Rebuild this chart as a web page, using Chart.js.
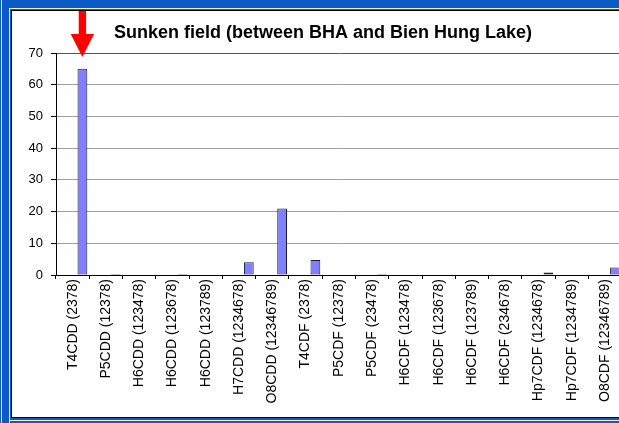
<!DOCTYPE html>
<html>
<head>
<meta charset="utf-8">
<script src="https://cdn.jsdelivr.net/npm/chart.js@4.4.1/dist/chart.umd.min.js"></script>
<style>
  html, body { margin: 0; padding: 0; }
  body {
    width: 619px; height: 423px; overflow: hidden; position: relative;
    background: #0a5bc6;
    font-family: "Liberation Sans", Arial, sans-serif;
  }
  .stripe { position: absolute; background: #f2eeb8; }
  #panel {
    position: absolute; left: 11px; top: 10px; width: 640px; height: 406px;
    border: 1px solid #000; background: #fff;
  }
  #chart { position: absolute; left: 0; top: 0; }
</style>
</head>
<body>
<div class="stripe" style="left:1px;top:0;width:1px;height:423px"></div>
<div class="stripe" style="left:9px;top:8px;width:1px;height:415px"></div>
<div class="stripe" style="left:9px;top:8px;width:610px;height:1px"></div>
<div class="stripe" style="left:9px;top:420px;width:610px;height:1px"></div>
<div id="panel"><canvas id="chart" width="610" height="406"></canvas></div>
<script>
const TITLE = "Sunken field (between BHA and Bien Hung Lake)";

const categories = [
  "T4CDD (2378)", "P5CDD (12378)", "H6CDD (123478)", "H6CDD (123678)",
  "H6CDD (123789)", "H7CDD (1234678)", "O8CDD (12346789)", "T4CDF (2378)",
  "P5CDF (12378)", "P5CDF (23478)", "H6CDF (123478)", "H6CDF (123678)",
  "H6CDF (123789)", "H6CDF (234678)", "Hp7CDF (1234678)", "Hp7CDF (1234789)",
  "O8CDF (12346789)",
];

// the original sheet has two empty series ahead of this one, which shifts the bars right
const emptySeries1 = [];
const emptySeries2 = [];
const sunkenField = [65, 0.3, 0, 0.3, 0, 4, 21, 4.7, 0, 0.3, 0, 0, 0, 0, 0.8, 0, 2.4];

const yTicks = [0, 10, 20, 30, 40, 50, 60, 70];

const FONT = "'Liberation Sans', Arial, sans-serif";

const titlePlugin = {
  id: "excelTitle",
  afterDraw(chart) {
    const ctx = chart.ctx;
    ctx.save();
    ctx.font = `bold 18px ${FONT}`;
    ctx.fillStyle = "#000";
    ctx.textAlign = "center";
    ctx.textBaseline = "alphabetic";
    ctx.fillText(TITLE, 311, 27);
    ctx.restore();
  },
};

// red arrow pointing at the first bar
const arrowPlugin = {
  id: "arrow",
  afterDatasetsDraw(chart) {
    const bar = chart.getDatasetMeta(2).data[0];
    if (!bar) return;
    const ctx = chart.ctx;
    const x = bar.x;
    const top = chart.chartArea.top;
    ctx.save();
    ctx.fillStyle = "#ff0000";
    ctx.beginPath();
    ctx.moveTo(x - 3.7, 0);
    ctx.lineTo(x + 3.7, 0);
    ctx.lineTo(x + 3.7, top - 19);
    ctx.lineTo(x + 11.7, top - 19);
    ctx.lineTo(x, top + 4);
    ctx.lineTo(x - 11.7, top - 19);
    ctx.lineTo(x - 3.7, top - 19);
    ctx.closePath();
    ctx.fill();
    ctx.restore();
  },
};

const barStyle = {
  backgroundColor: "#8080ff",
  borderColor: "#1c1c40",
  borderWidth: 1,
  borderSkipped: false,
  categoryPercentage: 0.88,
  barPercentage: 1,
};

new Chart(document.getElementById("chart"), {
  type: "bar",
  data: {
    labels: categories,
    datasets: [
      { label: "s1", data: emptySeries1, ...barStyle },
      { label: "s2", data: emptySeries2, ...barStyle },
      { label: "Sunken field", data: sunkenField, ...barStyle },
    ],
  },
  options: {
    responsive: false,
    animation: false,
    layout: { padding: { top: 42, left: 0, right: 0, bottom: 0 } },
    plugins: {
      legend: { display: false },
      title: { display: false },
      tooltip: { enabled: false },
    },
    scales: {
      x: {
        offset: true,
        afterFit: (s) => { s.height = 142; },
        grid: {
          offset: true,
          drawOnChartArea: false,
          drawTicks: true,
          tickLength: 4,
          tickColor: "#000",
        },
        border: { display: true, color: "#000", width: 1 },
        ticks: {
          color: "#000",
          font: { family: FONT, size: 14 },
          minRotation: 90,
          maxRotation: 90,
          autoSkip: false,
          padding: 0,
        },
      },
      y: {
        min: yTicks[0],
        max: yTicks[yTicks.length - 1],
        afterFit: (s) => { s.width = 44; },
        afterBuildTicks: (s) => { s.ticks = yTicks.map((v) => ({ value: v })); },
        grid: {
          color: (c) => (c.tick && c.tick.value === 70 ? "#555" : "#a0a0a0"),
          tickColor: "#000",
          tickLength: 5,
        },
        border: { display: true, color: "#000", width: 1 },
        ticks: {
          color: "#000",
          font: { family: FONT, size: 13 },
          padding: 8,
        },
      },
    },
  },
  plugins: [titlePlugin, arrowPlugin],
});
</script>
</body>
</html>
